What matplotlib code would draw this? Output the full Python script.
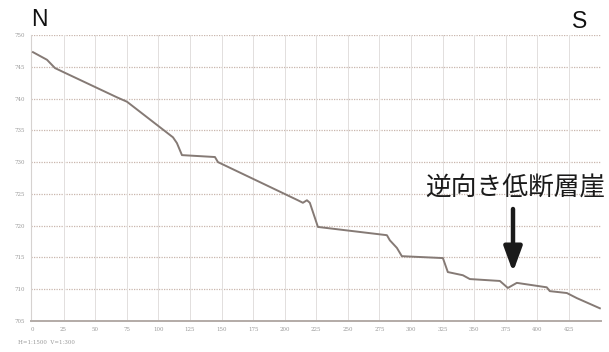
import matplotlib
matplotlib.use("Agg")
import matplotlib.pyplot as plt
import numpy as np

# Topographic profile, north (left) to south (right)
distance_m = [0.8, 11.9, 18.2, 24.5, 67.2, 75.2, 111.6, 114.7, 118.7, 144.8,
              147.2, 188.3, 210.4, 214.4, 217.6, 219.9, 226.3, 280.9, 283.2,
              288.8, 292.7, 325.2, 329.1, 341.0, 346.5, 370.3, 376.6, 383.7,
              407.4, 409.8, 423.3, 431.2, 449.4]
elevation_m = [747.3, 746.1, 744.8, 744.2, 740.2, 739.5, 733.9, 733.0, 731.1,
               730.8, 730.0, 726.1, 724.0, 723.6, 724.0, 723.6, 719.8, 718.5,
               717.7, 716.5, 715.2, 714.9, 712.7, 712.2, 711.6, 711.3, 710.2,
               711.0, 710.3, 709.7, 709.4, 708.6, 707.0]

x_ticks = list(range(0, 450, 25))
y_ticks = list(range(705, 751, 5))

scarp_label = "逆向き低断層崖"
scale_note = "H=1:1500  V=1:300"

W, H = 609, 352
fig = plt.figure(figsize=(W / 100, H / 100), dpi=100)
ax = fig.add_axes([30.7 / W, 31 / H, (600.6 - 30.7) / W, 286 / H])

ax.plot(distance_m, elevation_m, color="#857a75", lw=1.4, zorder=3)

ax.set_xlim(-1, 450)
ax.set_ylim(705, 750)
ax.set_xticks(x_ticks)
ax.set_yticks(y_ticks)
ax.tick_params(length=0, labelsize=4, labelcolor="#9a9a9a", pad=4)
for lbl in ax.get_xticklabels() + ax.get_yticklabels():
    lbl.set_family("DejaVu Serif")

# grid: dotted horizontals, faint solid verticals
for yv in y_ticks[1:]:
    ax.axhline(yv, color="#c9b6ad", lw=0.9, ls=(0, (1, 1)), zorder=1)
for xv in x_ticks[1:]:
    ax.axvline(xv, color="#e2dfdd", lw=0.7, zorder=1)

for side in ("top", "right"):
    ax.spines[side].set_visible(False)
ax.spines["left"].set_color("#d6d2d0")
ax.spines["left"].set_linewidth(0.8)
ax.spines["bottom"].set_color("#b3aba7")
ax.spines["bottom"].set_linewidth(1.4)

# direction labels
fig.text(39 / W, 1 - 19 / H, "N", fontsize=16.5, family="Liberation Sans",
         ha="center", va="center", color="#111111")
fig.text(580 / W, 1 - 21 / H, "S", fontsize=16.5, family="Liberation Sans",
         ha="center", va="center", color="#111111")

# scarp annotation with arrow
fig.text(515 / W, 1 - 189 / H, scarp_label, fontsize=18.5,
         family=["Noto Sans CJK JP", "DejaVu Sans"], ha="center", va="center",
         color="#1a1a1a")
ax.annotate("", xy=(513, H - 272), xycoords="figure pixels",
            xytext=(513, H - 209), textcoords="figure pixels",
            arrowprops=dict(arrowstyle="-|>,head_length=1.5,head_width=0.55",
                            lw=3.2, color="#1a1a1a", shrinkA=0, shrinkB=0))

fig.text(18 / W, 1 - 342 / H, scale_note, fontsize=4, color="#9a9a9a",
         family="DejaVu Serif", ha="left", va="center")

fig.savefig("out.png", dpi=100)
